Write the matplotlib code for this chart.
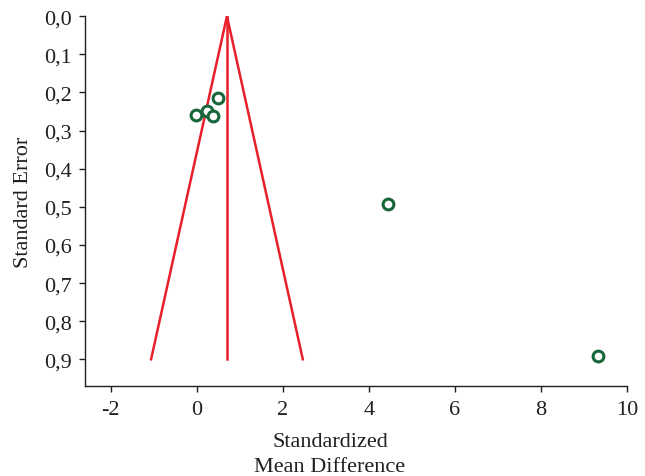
import matplotlib
matplotlib.use("Agg")
import matplotlib.pyplot as plt
import numpy as np
from matplotlib.ticker import FuncFormatter

# Study estimates (standardized mean difference, standard error)
smd = [-0.02, 0.23, 0.37, 0.49, 4.44, 9.33]
se = [0.26, 0.25, 0.262, 0.215, 0.493, 0.892]

# Pooled estimate and funnel depth
pooled = 0.70
se_max = 0.9

x_ticks = [-2, 0, 2, 4, 6, 8, 10]
y_ticks = [0.0, 0.1, 0.2, 0.3, 0.4, 0.5, 0.6, 0.7, 0.8, 0.9]

RED = "#e8202a"
GREEN = "#16663a"
INK = "#231f20"

plt.rcParams["font.family"] = ["Liberation Serif", "DejaVu Serif"]
plt.rcParams["axes.unicode_minus"] = False

fig = plt.figure(figsize=(6.45, 4.77), dpi=100)
ax = fig.add_axes([0.1318, 0.1887, 0.8402, 0.7753])

# funnel (95% pseudo confidence limits)
ax.plot([pooled - 1.96 * se_max, pooled, pooled + 1.96 * se_max],
        [se_max, 0, se_max], color=RED, linewidth=1.8)
ax.plot([pooled, pooled], [0, se_max], color=RED, linewidth=1.8)

ax.scatter(smd, se, s=60, facecolors="white", edgecolors=GREEN,
           linewidths=2.2, zorder=3)

ax.set_xlim(-2.6, 10)
ax.set_ylim(0.97, 0.0)
ax.set_xticks(x_ticks)
ax.set_yticks(y_ticks)
ax.yaxis.set_major_formatter(FuncFormatter(lambda v, p: f"{v:.1f}".replace(".", ",")))

for side in ["top", "right"]:
    ax.spines[side].set_visible(False)
for side in ["left", "bottom"]:
    ax.spines[side].set_linewidth(1.0)
    ax.spines[side].set_color(INK)

ax.tick_params(axis="both", length=4.3, width=1.0, color=INK,
               labelsize=16, labelcolor=INK)
ax.tick_params(axis="y", pad=5)
ax.tick_params(axis="x", pad=6)

ax.set_xlabel("Standardized\nMean Difference", fontsize=16, color=INK,
              linespacing=1.4)
ax.xaxis.set_label_coords(0.452, -0.125)
ax.set_ylabel("Standard Error", fontsize=16, color=INK)
ax.yaxis.set_label_coords(-0.096, 0.5)

fig.savefig("out.png", dpi=100)
